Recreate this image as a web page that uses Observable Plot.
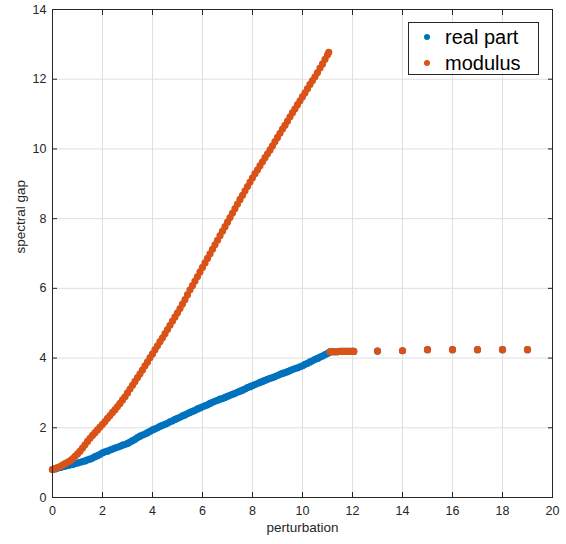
<!DOCTYPE html>
<html>
<head>
<meta charset="utf-8">
<script src="https://cdn.jsdelivr.net/npm/d3@7"></script>
<script src="https://cdn.jsdelivr.net/npm/@observablehq/plot@0.6"></script>
<style>
  body { margin: 0; background: #fff; }
  #wrap { position: relative; width: 566px; height: 544px; font-family: "Liberation Sans", Arial, sans-serif; }
  #legend { position: absolute; left: 408px; top: 22px; width: 129px; height: 51px; border: 1px solid #262626; background: #fff; color: #000; font-size: 20px; }
  .row { position: absolute; left: 0; height: 24px; line-height: 24px; white-space: nowrap; }
  .sw { position: absolute; left: 15px; top: 9px; width: 6px; height: 6px; border-radius: 50%; }
  .lb { position: absolute; left: 36px; top: 0; }
</style>
</head>
<body>
<div id="wrap"><div id="chart"></div><div id="legend"></div></div>
<script>
const seriesNames = ["real part", "modulus"];
const seriesColors = ["#0072BD", "#D95319"];
const xTicks = [0, 2, 4, 6, 8, 10, 12, 14, 16, 18, 20];
const yTicks = [0, 2, 4, 6, 8, 10, 12, 14];
const xLabel = "perturbation";
const yLabel = "spectral gap";

const perturbation = [
  0, 0.1, 0.2, 0.3, 0.4, 0.5, 0.6, 0.7, 0.8, 0.9,
  1, 1.1, 1.2, 1.3, 1.4, 1.5, 1.6, 1.7, 1.8, 1.9,
  2, 2.1, 2.2, 2.3, 2.4, 2.5, 2.6, 2.7, 2.8, 2.9,
  3, 3.1, 3.2, 3.3, 3.4, 3.5, 3.6, 3.7, 3.8, 3.9,
  4, 4.1, 4.2, 4.3, 4.4, 4.5, 4.6, 4.7, 4.8, 4.9,
  5, 5.1, 5.2, 5.3, 5.4, 5.5, 5.6, 5.7, 5.8, 5.9,
  6, 6.1, 6.2, 6.3, 6.4, 6.5, 6.6, 6.7, 6.8, 6.9,
  7, 7.1, 7.2, 7.3, 7.4, 7.5, 7.6, 7.7, 7.8, 7.9,
  8, 8.1, 8.2, 8.3, 8.4, 8.5, 8.6, 8.7, 8.8, 8.9,
  9, 9.1, 9.2, 9.3, 9.4, 9.5, 9.6, 9.7, 9.8, 9.9,
  10, 10.1, 10.2, 10.3, 10.4, 10.5, 10.6, 10.7, 10.8, 10.9,
  11, 11.05, 11.1, 11.2, 11.3, 11.4, 11.5, 11.6, 11.7, 11.8, 11.9, 12, 12.05,
  13, 14, 15, 16, 17, 18, 19
];

const realPart = [
  0.80, 0.82, 0.84, 0.86, 0.88, 0.90, 0.92, 0.93, 0.95, 0.97,
  0.99, 1.01, 1.03, 1.05, 1.08, 1.10, 1.13, 1.17, 1.20, 1.24,
  1.28, 1.31, 1.33, 1.36, 1.39, 1.42, 1.44, 1.47, 1.50, 1.52,
  1.55, 1.59, 1.63, 1.67, 1.72, 1.76, 1.79, 1.82, 1.86, 1.90,
  1.94, 1.97, 2.00, 2.04, 2.07, 2.10, 2.13, 2.17, 2.20, 2.24,
  2.27, 2.30, 2.34, 2.37, 2.41, 2.44, 2.47, 2.50, 2.54, 2.57,
  2.60, 2.63, 2.66, 2.70, 2.73, 2.76, 2.79, 2.82, 2.84, 2.87,
  2.90, 2.93, 2.96, 2.99, 3.02, 3.05, 3.08, 3.11, 3.15, 3.18,
  3.21, 3.24, 3.27, 3.30, 3.33, 3.36, 3.39, 3.42, 3.44, 3.47,
  3.50, 3.53, 3.56, 3.58, 3.61, 3.64, 3.67, 3.70, 3.72, 3.75,
  3.78, 3.82, 3.85, 3.89, 3.92, 3.96, 3.99, 4.03, 4.06, 4.10,
  4.13, 4.16, 4.18, 4.18, 4.18, 4.18, 4.19, 4.19, 4.19, 4.19, 4.19, 4.19, 4.19,
  4.20, 4.21, 4.24, 4.24, 4.24, 4.24, 4.24
];

const modulus = [
  0.80, 0.83, 0.86, 0.89, 0.93, 0.97, 1.01, 1.05, 1.11, 1.18,
  1.25, 1.33, 1.42, 1.51, 1.61, 1.70, 1.78, 1.86, 1.94, 2.02,
  2.10, 2.18, 2.27, 2.35, 2.44, 2.52, 2.61, 2.70, 2.80, 2.89,
  3.00, 3.11, 3.22, 3.33, 3.44, 3.55, 3.66, 3.78, 3.89, 4.01,
  4.12, 4.24, 4.35, 4.47, 4.58, 4.70, 4.82, 4.94, 5.06, 5.18,
  5.30, 5.42, 5.55, 5.68, 5.82, 5.96, 6.08, 6.21, 6.34, 6.47,
  6.60, 6.73, 6.86, 6.99, 7.12, 7.25, 7.38, 7.51, 7.64, 7.77,
  7.90, 8.03, 8.16, 8.29, 8.42, 8.55, 8.67, 8.80, 8.92, 9.05,
  9.17, 9.29, 9.40, 9.52, 9.63, 9.75, 9.86, 9.97, 10.09, 10.21,
  10.33, 10.45, 10.57, 10.68, 10.80, 10.92, 11.04, 11.15, 11.27, 11.38,
  11.50, 11.61, 11.73, 11.85, 11.96, 12.07, 12.19, 12.32, 12.44, 12.57,
  12.70, 12.77, 4.18, 4.18, 4.18, 4.18, 4.19, 4.19, 4.19, 4.19, 4.19, 4.19, 4.19,
  4.20, 4.21, 4.24, 4.24, 4.24, 4.24, 4.24
];

const data = perturbation.map((p, i) => ({p, re: realPart[i], mod: modulus[i]}));
const axisColor = "#262626";
const gridColor = "#dfdfdf";
const noText = () => "";

const chart = Plot.plot({
  width: 566,
  height: 544,
  marginLeft: 52,
  marginRight: 14,
  marginTop: 9,
  marginBottom: 47,
  style: {fontFamily: "'Liberation Sans', Arial, sans-serif", fontSize: "12.5px", color: axisColor, background: "#fff"},
  x: {domain: [0, 20]},
  y: {domain: [0, 14]},
  marks: [
    Plot.gridX(xTicks, {stroke: gridColor, strokeOpacity: 1}),
    Plot.gridY(yTicks, {stroke: gridColor, strokeOpacity: 1}),
    Plot.dot(data, {x: "p", y: "re", r: 3.6, fill: seriesColors[0]}),
    Plot.dot(data, {x: "p", y: "mod", r: 3.6, fill: seriesColors[1]}),
    Plot.axisX(xTicks, {anchor: "bottom", tickSize: 0, tickPadding: 9, label: null, fill: axisColor}),
    Plot.axisY(yTicks, {anchor: "left", tickSize: 0, tickPadding: 6, label: null, fill: axisColor}),
    Plot.axisX(xTicks, {anchor: "bottom", tickSize: -5, tickFormat: noText, label: null, stroke: axisColor}),
    Plot.axisX(xTicks, {anchor: "top", tickSize: -5, tickFormat: noText, label: null, stroke: axisColor}),
    Plot.axisY(yTicks, {anchor: "left", tickSize: -5, tickFormat: noText, label: null, stroke: axisColor}),
    Plot.axisY(yTicks, {anchor: "right", tickSize: -5, tickFormat: noText, label: null, stroke: axisColor}),
    Plot.frame({stroke: axisColor}),
    Plot.text([xLabel], {text: d => d, frameAnchor: "bottom", dy: 34, fontSize: 13.5, fill: axisColor}),
    Plot.text([yLabel], {text: d => d, frameAnchor: "left", dx: -32, rotate: -90, fontSize: 13.5, fill: axisColor})
  ]
});
document.getElementById("chart").appendChild(chart);

const legend = document.getElementById("legend");
seriesNames.forEach((name, i) => {
  const row = document.createElement("div");
  row.className = "row";
  row.style.top = (2 + i * 26) + "px";
  row.style.width = "129px";
  const sw = document.createElement("span");
  sw.className = "sw";
  sw.style.background = seriesColors[i];
  const lb = document.createElement("span");
  lb.className = "lb";
  lb.textContent = name;
  row.appendChild(sw);
  row.appendChild(lb);
  legend.appendChild(row);
});
</script>
</body>
</html>
